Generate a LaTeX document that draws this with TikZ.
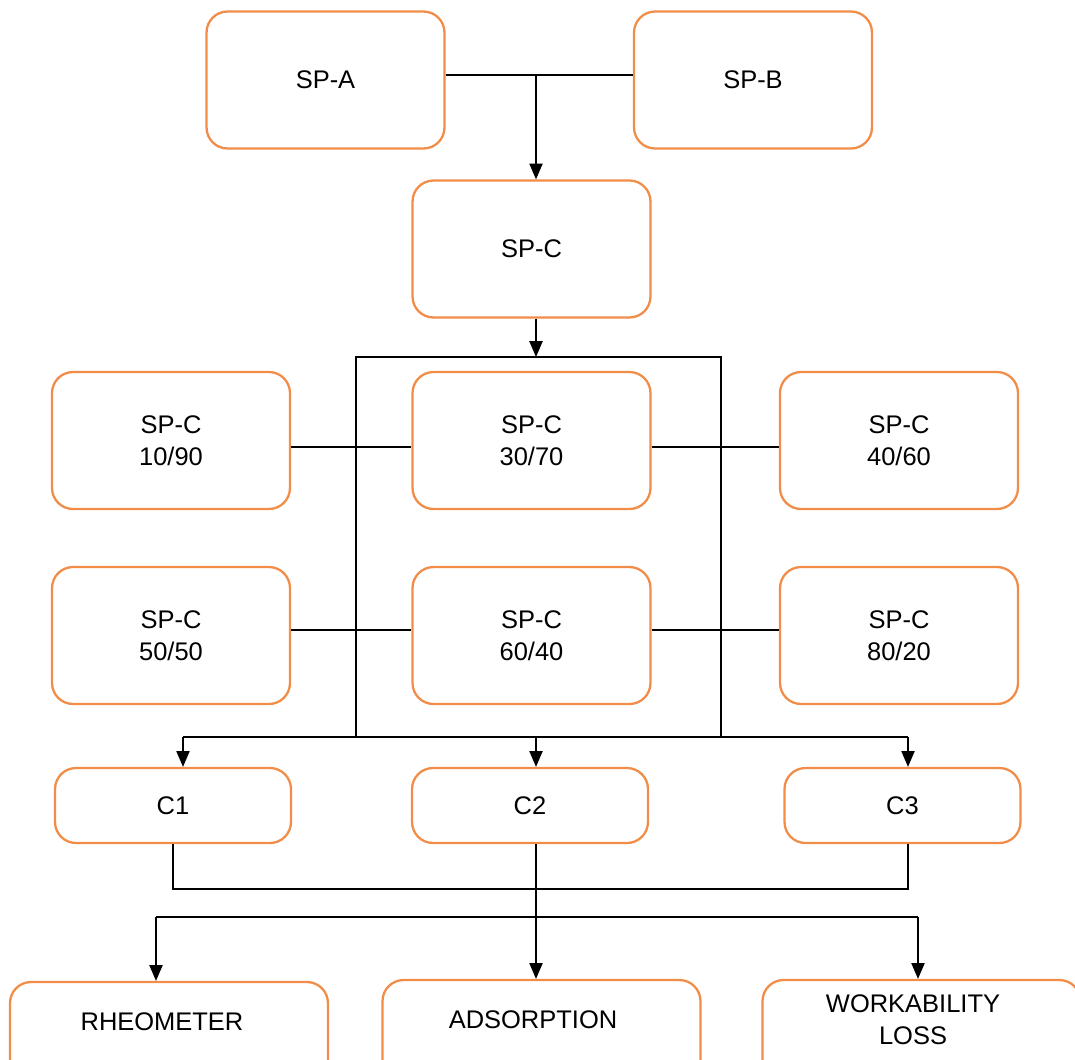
\documentclass[tikz,border=0pt]{standalone}
\usepackage{fontspec}
\setmainfont{Liberation Sans}
\usetikzlibrary{arrows.meta}
\definecolor{boxorange}{RGB}{241,141,72}
\tikzset{
  spbox/.style={draw=boxorange,line width=1.3pt,rounded corners=0.42cm,
    minimum width=4.76cm,minimum height=2.74cm,align=center,inner sep=0pt},
  cbox/.style={spbox,minimum width=4.72cm,minimum height=1.5cm},
  testbox/.style={spbox,minimum width=6.36cm,minimum height=3.2cm},
  lbl/.style={align=center,inner sep=0pt},
  arr/.style={-{Triangle[length=9pt,width=7.5pt]}},
}
\begin{document}
\begin{tikzpicture}[x=0.02cm,y=-0.02cm,line width=0.85pt,
  font=\fontsize{14.5}{18}\selectfont]
\clip (0,0) rectangle (1075,1059);
% source and mix
\node[spbox] (spa) at (325.5,80) {SP-A};
\node[spbox] (spb) at (753,80) {SP-B};
\node[spbox] (spc) at (531.5,249) {SP-C};
% blends
\node[spbox] (c1090) at (171,440.5) {SP-C\\10/90};
\node[spbox] (c3070) at (531.5,440.5) {SP-C\\30/70};
\node[spbox] (c4060) at (899,440.5) {SP-C\\40/60};
\node[spbox] (c5050) at (171,635.5) {SP-C\\50/50};
\node[spbox] (c6040) at (531.5,635.5) {SP-C\\60/40};
\node[spbox] (c8020) at (899,635.5) {SP-C\\80/20};
% cements
\node[cbox] (cA) at (173,805.5) {C1};
\node[cbox] (cB) at (530,805.5) {C2};
\node[cbox] (cC) at (902.5,805.5) {C3};
% tests
\node[testbox] (rheo) at (169,1062) {};
\node[testbox] (ads) at (541.5,1060) {};
\node[testbox] (work) at (921.5,1060) {};
\node[lbl] (rheotxt) at (162,1022) {RHEOMETER};
\node[lbl] (adstxt) at (533,1020) {ADSORPTION};
\node[lbl] (worktxt) at (913,1020) {WORKABILITY\\LOSS};

\coordinate (join) at (536,75);
\coordinate (bus) at (536,357);
\coordinate (lrail) at (356,357);
\coordinate (rrail) at (721,357);
\coordinate (low) at (183,737);
\coordinate (lowr) at (908,737);
\coordinate (r1) at (0,447);
\coordinate (r2) at (0,630);
\coordinate (cjoin) at (536,889);
\coordinate (tbus) at (156,917);
\coordinate (tbusr) at (918,917);

\draw (spa.east |- join) -- (spb.west |- join);
\draw[arr] (join) -- (join |- spc.north);
\draw[arr] (bus |- spc.south) -- (bus);
\draw (lrail |- low) -- (lrail) -- (rrail) -- (rrail |- low);
\draw (c1090.east |- r1) -- (c3070.west |- r1);
\draw (c3070.east |- r1) -- (c4060.west |- r1);
\draw (c5050.east |- r2) -- (c6040.west |- r2);
\draw (c6040.east |- r2) -- (c8020.west |- r2);
\draw (low) -- (lowr);
\draw[arr] (low) -- (low |- cA.north);
\draw[arr] (bus |- low) -- (bus |- cB.north);
\draw[arr] (lowr) -- (lowr |- cC.north);
\draw (cA.south) -- (cA.south |- cjoin) -- (lowr |- cjoin) -- (lowr |- cC.south);
\draw[arr] (cjoin |- cB.south) -- (cjoin |- ads.north);
\draw (tbus) -- (tbusr);
\draw[arr] (tbus) -- (tbus |- rheo.north);
\draw[arr] (tbusr) -- (tbusr |- work.north);
\end{tikzpicture}
\end{document}
